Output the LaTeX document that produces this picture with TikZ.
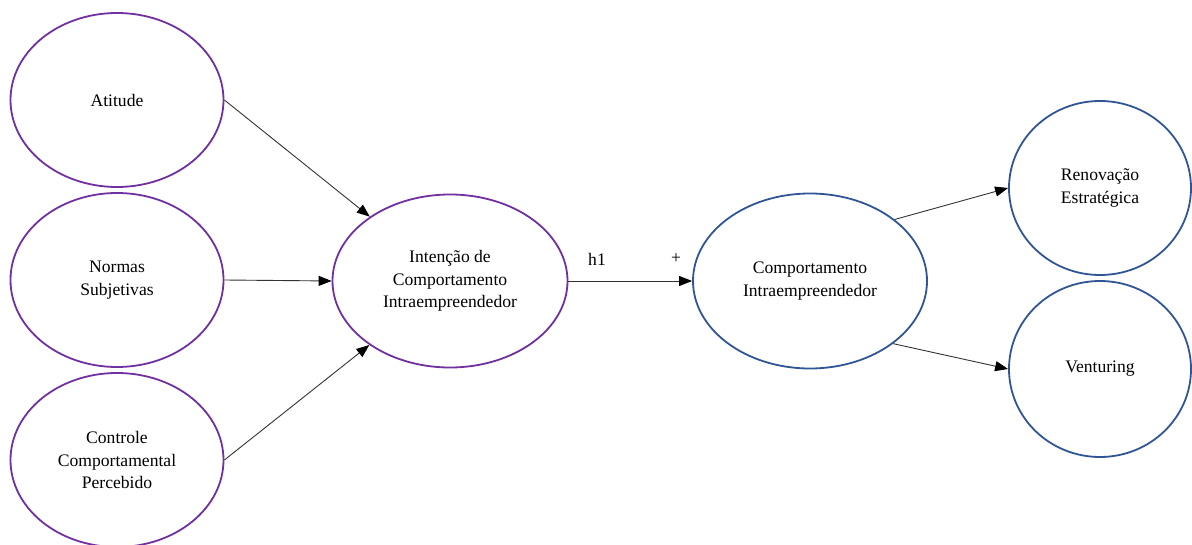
\documentclass[tikz,border=0pt]{standalone}
\usepackage{fontspec}
\setmainfont{Liberation Serif}
\usetikzlibrary{shapes.geometric,arrows.meta}
\definecolor{ovalpurple}{HTML}{7030A0}
\definecolor{ovalblue}{HTML}{2F5597}

\begin{document}
\begin{tikzpicture}[x=1pt,y=1pt,yscale=-1,
	purpleoval/.style={ellipse,draw=ovalpurple,line width=1.8pt,inner sep=0pt,align=center,font=\fontsize{17.6}{22.5}\selectfont},
	blueoval/.style={purpleoval,draw=ovalblue},
	arr/.style={-{Triangle[length=13pt,width=10pt,color=black]},line width=0.9pt,draw=black!80}]
	\useasboundingbox (0,0) rectangle (1192,545);
	% constructos da TPB
	\node [purpleoval,minimum width=213,minimum height=174] (atitude) at (117,100) {Atitude};
	\node [purpleoval,minimum width=213,minimum height=174] (normas) at (117,280) {Normas\\Subjetivas};
	\node [purpleoval,minimum width=213,minimum height=174] (controle) at (117,460) {Controle\\Comportamental\\Percebido};
	\node [purpleoval,minimum width=235,minimum height=173] (intencao) at (450,281) {Inten\c{c}\~ao de\\Comportamento\\Intraempreendedor};
	% comportamento e dimensoes
	\node [blueoval,minimum width=234,minimum height=175] (comport) at (810,281) {Comportamento\\Intraempreendedor};
	\node [blueoval,minimum width=182,minimum height=174] (renov) at (1100,188) {Renova\c{c}\~ao\\Estrat\'egica};
	\node [blueoval,minimum width=182,minimum height=176] (venturing) at (1100,369) {Venturing};
	\draw [arr] (atitude.east) -- (intencao);
	\draw [arr] (normas.east) -- (intencao.west);
	\draw [arr] (controle.east) -- (intencao);
	\draw [arr] (intencao.east) -- (comport.west);
	\draw [arr] (comport.36) -- (renov.west);
	\draw [arr] (comport.-37) -- (venturing.west);
	\node [font=\fontsize{17.6}{22.5}\selectfont] (hipotese) at (597,259) {h1};
	\node [font=\fontsize{17.6}{22.5}\selectfont] (sinal) at (676,259) {+};
\end{tikzpicture}
\end{document}
